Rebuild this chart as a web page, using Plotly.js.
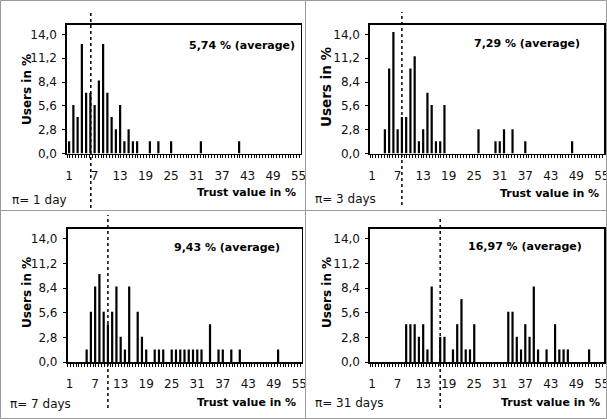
<!DOCTYPE html>
<html>
<head>
<meta charset="utf-8">
<script src="https://cdn.plot.ly/plotly-3.0.1.min.js"></script>
<style>html,body{margin:0;padding:0;background:#fff;}#chart{width:607px;height:419px;}</style>
</head>
<body>
<div id="chart"></div>
<script>
// ---- data ----
const xTickVals = [1, 7, 13, 19, 25, 31, 37, 43, 49, 55];
const xTickText = ['1', '7', '13', '19', '25', '31', '37', '43', '49', '55'];
const yTickVals = [0, 2.8, 5.6, 8.4, 11.2, 14.0];
const yTickText = ['0,0', '2,8', '5,6', '8,4', '11,2', '14,0'];

const cats1 = [1,2,3,4,5,6,7,8,9,10,11,12,13,14,15,16,17,20,22,25,32,41];
const vals1 = [1.43,5.71,4.29,12.86,7.14,7.14,5.71,8.57,12.86,7.14,4.29,2.86,5.71,1.43,2.86,1.43,1.43,1.43,1.43,1.43,1.43,1.43];

const cats2 = [4,5,6,7,8,9,10,11,12,13,14,15,16,17,18,26,30,31,32,34,37,48];
const vals2 = [2.86,10.0,14.29,2.86,4.29,4.29,10.0,11.43,1.43,2.86,7.14,5.71,1.43,1.43,5.71,2.86,1.43,1.43,2.86,2.86,1.43,1.43];

const cats3 = [5,6,7,8,9,10,11,12,13,14,15,17,18,19,21,22,23,25,26,27,28,29,30,31,32,34,36,37,39,41,50];
const vals3 = [1.43,5.71,8.57,10.0,5.71,4.29,5.71,8.57,2.86,1.43,8.57,5.71,2.86,1.43,1.43,1.43,1.43,1.43,1.43,1.43,1.43,1.43,1.43,1.43,1.43,4.29,1.43,1.43,1.43,1.43,1.43];

const cats4 = [9,10,11,12,13,14,15,17,18,20,21,22,23,24,25,33,34,35,36,37,38,39,40,42,44,45,46,47,52];
const vals4 = [4.29,4.29,4.29,2.86,4.29,1.43,8.57,2.86,2.86,1.43,4.29,7.14,1.43,1.43,4.29,5.71,5.71,2.86,1.43,4.29,2.86,8.57,1.43,1.43,4.29,1.43,1.43,1.43,1.43];

const averageLabels = ['5,74 % (average)', '7,29 % (average)', '9,43 % (average)', '16,97 % (average)'];
const averageLinePos = [6.1, 8.0, 10.0, 17.0];
const periodLabels = ['\u03C0= 1 day', '\u03C0= 3 days', '\u03C0= 7 days', '\u03C0= 31 days'];
const xTitle = 'Trust value in %';
const yTitle = 'Users in %';

// ---- layout (pixel geometry) ----
const W = 607, H = 419;
const px = v => v / W;
const py = v => 1 - v / H;
const panels = [
  {x0: 67,  x1: 300.75, top: 25,  bot: 153.5, cats: cats1, vals: vals1,
   avgX: 242, avgY: 45, titX: 246, titY: 192.5, perX: 10, perY: 200, yTitX: 27, yTitY: 90, yTitSize: 12,
   lineTop: 11, lineBot: 208},
  {x0: 370, x1: 604, top: 25,  bot: 153.5, cats: cats2, vals: vals2,
   avgX: 526.5, avgY: 43.5, titX: 549, titY: 193.5, perX: 313, perY: 198.5, yTitX: 326, yTitY: 87, yTitSize: 13.5,
   lineTop: 12, lineBot: 205},
  {x0: 67.5, x1: 301.5, top: 229, bot: 362, cats: cats3, vals: vals3,
   avgX: 227, avgY: 247, titX: 246, titY: 402.5, perX: 8, perY: 403.5, yTitX: 27, yTitY: 293, yTitSize: 12,
   lineTop: 215, lineBot: 408},
  {x0: 370, x1: 604, top: 229, bot: 362, cats: cats4, vals: vals4,
   avgX: 525, avgY: 246.5, titX: 550, titY: 402, perX: 313, perY: 403, yTitX: 327, yTitY: 293, yTitSize: 12,
   lineTop: 217, lineBot: 408}
];

const FONT = 'DejaVu Sans, Arial, sans-serif';
const data = [];
const layout = {
  width: W, height: H,
  margin: {l: 0, r: 0, t: 0, b: 0, pad: 0},
  paper_bgcolor: '#ffffff', plot_bgcolor: '#ffffff',
  showlegend: false, bargap: 0.48,
  font: {family: FONT, size: 12, color: '#000'},
  annotations: [], shapes: []
};

panels.forEach((p, i) => {
  const n = i + 1;
  const xa = 'xaxis' + (n === 1 ? '' : n);
  const ya = 'yaxis' + (n === 1 ? '' : n);
  const xr = 'x' + (n === 1 ? '' : n);
  const yr = 'y' + (n === 1 ? '' : n);
  data.push({type: 'bar', x: p.cats, y: p.vals, xaxis: xr, yaxis: yr,
             marker: {color: '#000', line: {width: 0}}, hoverinfo: 'skip'});
  layout[xa] = {
    domain: [px(p.x0), px(p.x1)], anchor: yr, range: [0.5, 55.5],
    tickmode: 'array', tickvals: xTickVals, ticktext: xTickText,
    ticks: '', showgrid: false, zeroline: false,
    showline: true, linecolor: '#000', linewidth: 1.6, mirror: true,
    ticklabelstandoff: 10, ticklabeloverflow: 'allow',
    tickfont: {family: FONT, size: 12, color: '#111'},
    minor: {ticks: 'outside', ticklen: 3, tickcolor: '#000', tickwidth: 1, tick0: 0.5, dtick: 2/3, showgrid: false},
    fixedrange: true
  };
  layout[ya] = {
    domain: [py(p.bot), py(p.top)], anchor: xr, range: [0, 15.1],
    tickmode: 'array', tickvals: yTickVals, ticktext: yTickText,
    ticks: 'outside', ticklen: 3, tickcolor: '#000', tickwidth: 1,
    showgrid: false, zeroline: false,
    showline: true, linecolor: '#000', linewidth: 1.6, mirror: true,
    ticklabelstandoff: 3, ticklabeloverflow: 'allow',
    tickfont: {family: FONT, size: 12, color: '#111'},
    fixedrange: true
  };
  const A = (text, x, y, opts) => Object.assign({text, x: px(x), y: py(y), xref: 'paper', yref: 'paper',
    showarrow: false, xanchor: 'center', yanchor: 'middle', font: {family: FONT, size: 11, color: '#000'}}, opts || {});
  layout.annotations.push(A('<b>' + averageLabels[i] + '</b>', p.avgX, p.avgY));
  layout.annotations.push(A('<b>' + xTitle + '</b>', p.titX, p.titY));
  layout.annotations.push(A(periodLabels[i], p.perX, p.perY, {xanchor: 'left', font: {family: FONT, size: 12, color: '#111'}}));
  layout.annotations.push(A('<b>' + yTitle + '</b>', p.yTitX, p.yTitY, {textangle: -90, font: {family: FONT, size: p.yTitSize, color: '#000'}}));
  layout.shapes.push({type: 'line', xref: xr, yref: 'paper', x0: averageLinePos[i], x1: averageLinePos[i],
    y0: py(p.lineBot), y1: py(p.lineTop), line: {color: '#000', width: 1.5, dash: 'dot'}, layer: 'above'});
});

// panel frames (grey)
const G = '#9a9a9a';
layout.shapes.push({type: 'rect', xref: 'paper', yref: 'paper', x0: px(0.5), x1: px(606.5), y0: py(418.5), y1: py(0.5), line: {color: G, width: 1}});
layout.shapes.push({type: 'line', xref: 'paper', yref: 'paper', x0: px(305.5), x1: px(305.5), y0: py(418.5), y1: py(0.5), line: {color: G, width: 1}});
layout.shapes.push({type: 'line', xref: 'paper', yref: 'paper', x0: px(0.5), x1: px(606.5), y0: py(210.5), y1: py(210.5), line: {color: G, width: 1}});

Plotly.newPlot('chart', data, layout, {staticPlot: true, displayModeBar: false});
</script>
</body>
</html>
